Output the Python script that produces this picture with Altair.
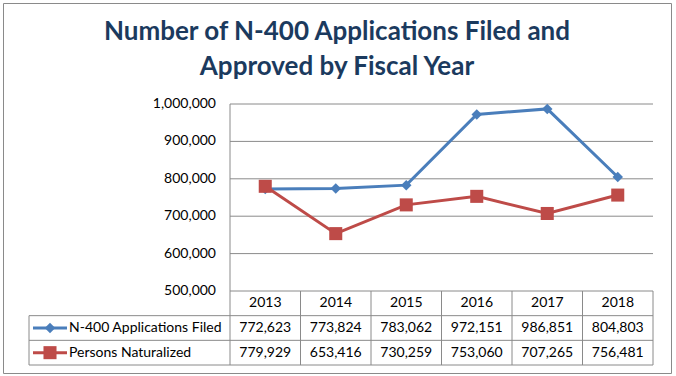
import altair as alt
import pandas as pd

# ---------------- data ----------------
years = [2013, 2014, 2015, 2016, 2017, 2018]
filed = [772623, 773824, 783062, 972151, 986851, 804803]
naturalized = [779929, 653416, 730259, 753060, 707265, 756481]
series_names = ["N-400 Applications Filed", "Persons Naturalized"]
y_ticks = [500000, 600000, 700000, 800000, 900000, 1000000]
title_lines = ["Number of N-400 Applications Filed and", "Approved by Fiscal Year"]

# ---------------- style / layout ----------------
FONT = "Lato"
TITLE_COLOR = "#1B3A5E"
LINE_COLORS = ["#4A7EBB", "#BE4B48"]
MARK_COLORS = ["#4F81BD", "#C0504D"]
SHAPES = ["diamond", "square"]
MARK_SIZES = [110, 170]
LEGEND_SIZES = [50, 80]
GRID = "#8A8A8A"
W, H = 668, 370            # the single view = the chart frame
PX_LEFT, PX_RIGHT = 227, 650   # pixel of first / last column edge
PX_PER_YEAR = (PX_RIGHT - PX_LEFT) / len(years)
TABLE_LEFT_PX = 26
SYMBOL_PX = (30, 64, 47)   # legend line start, end, marker
LABEL_PX = 66


def px_to_year(px):
    return years[0] - 0.5 + (px - PX_LEFT) / PX_PER_YEAR


x_lo = years[0] - 0.5
x_hi = years[-1] + 0.5
table_left = px_to_year(TABLE_LEFT_PX)

xscale = alt.Scale(domain=[x_lo, x_hi], range=[PX_LEFT, PX_RIGHT], zero=False, nice=False)
vscale = alt.Scale(domain=[y_ticks[0], y_ticks[-1]], range=[288, 101], zero=False, nice=False)
rscale = alt.Scale(domain=[0, 3], range=[288, 362], zero=False, nice=False)

line_df = pd.DataFrame({
    "year": years * 2,
    "value": filed + naturalized,
    "series": [series_names[0]] * len(years) + [series_names[1]] * len(years),
})
tick_df = pd.DataFrame({"tick": y_ticks})
grid_df = tick_df[tick_df["tick"] > y_ticks[0]]

cell_rows = []
for i, y in enumerate(years):
    cell_rows.append({"year": y, "row": 0.5, "text": str(y)})
    cell_rows.append({"year": y, "row": 1.5, "text": f"{filed[i]:,}"})
    cell_rows.append({"year": y, "row": 2.5, "text": f"{naturalized[i]:,}"})
cell_df = pd.DataFrame(cell_rows)

edges = [y - 0.5 for y in years] + [years[-1] + 0.5]
vline_df = pd.DataFrame({"x": edges, "r0": [0] * len(edges), "r1": [3] * len(edges)})
vline_df = pd.concat([vline_df, pd.DataFrame({"x": [table_left], "r0": [1], "r1": [3]})])
hline_df = pd.DataFrame({
    "r": [0, 1, 2, 3],
    "x0": [x_lo, table_left, table_left, table_left],
    "x1": [x_hi] * 4,
})

legend_df = pd.DataFrame({
    "series": series_names,
    "row": [1.5, 2.5],
    "xa": [px_to_year(SYMBOL_PX[0])] * 2,
    "xb": [px_to_year(SYMBOL_PX[1])] * 2,
    "xm": [px_to_year(SYMBOL_PX[2])] * 2,
    "xl": [px_to_year(LABEL_PX)] * 2,
})

color_line = alt.Scale(domain=series_names, range=LINE_COLORS)
color_mark = alt.Scale(domain=series_names, range=MARK_COLORS)
shape_scale = alt.Scale(domain=series_names, range=SHAPES)

def X(field):
    return alt.X(field, type="quantitative", scale=xscale, axis=None)

# gridlines
grid = alt.Chart(grid_df).mark_rule(color=GRID, strokeWidth=1).encode(
    x=alt.XDatum(x_lo, type="quantitative", scale=xscale, axis=None),
    x2=alt.X2Datum(x_hi),
    y=alt.Y("tick:Q", scale=vscale, axis=None),
)
# y axis line
yaxis = alt.Chart(tick_df).mark_rule(color=GRID, strokeWidth=1).encode(
    x=alt.XDatum(x_lo, type="quantitative", scale=xscale, axis=None),
    y=alt.Y("min(tick):Q", scale=vscale, axis=None),
    y2=alt.Y2("max(tick):Q"),
)
ylabels = alt.Chart(tick_df).mark_text(align="right", baseline="middle", dx=-14,
                                        font=FONT, fontSize=14, color="#000000").encode(
    x=alt.XDatum(x_lo, type="quantitative", scale=xscale, axis=None),
    y=alt.Y("tick:Q", scale=vscale, axis=None),
    text=alt.Text("tick:Q", format=","),
)
lines = alt.Chart(line_df).mark_line(strokeWidth=3).encode(
    x=X("year"),
    y=alt.Y("value:Q", scale=vscale, axis=None),
    color=alt.Color("series:N", scale=color_line, legend=None),
)
points = alt.Chart(line_df).mark_point(filled=True, opacity=1).encode(
    x=X("year"),
    y=alt.Y("value:Q", scale=vscale, axis=None),
    color=alt.Color("series:N", scale=color_mark, legend=None),
    shape=alt.Shape("series:N", scale=shape_scale, legend=None),
    size=alt.Size("series:N", scale=alt.Scale(domain=series_names, range=MARK_SIZES), legend=None),
)
vlines = alt.Chart(vline_df).mark_rule(color=GRID, strokeWidth=1).encode(
    x=X("x"),
    y=alt.Y("r0:Q", scale=rscale, axis=None),
    y2=alt.Y2("r1:Q"),
)
hlines = alt.Chart(hline_df).mark_rule(color=GRID, strokeWidth=1).encode(
    x=X("x0"),
    x2=alt.X2("x1"),
    y=alt.Y("r:Q", scale=rscale, axis=None),
)
cells = alt.Chart(cell_df).mark_text(align="center", baseline="middle",
                                     font=FONT, fontSize=14, color="#000000").encode(
    x=X("year"),
    y=alt.Y("row:Q", scale=rscale, axis=None),
    text="text:N",
)
leg_lines = alt.Chart(legend_df).mark_rule(strokeWidth=3).encode(
    x=X("xa"),
    x2=alt.X2("xb"),
    y=alt.Y("row:Q", scale=rscale, axis=None),
    color=alt.Color("series:N", scale=color_line, legend=None),
)
leg_points = alt.Chart(legend_df).mark_point(filled=True, opacity=1).encode(
    x=X("xm"),
    y=alt.Y("row:Q", scale=rscale, axis=None),
    color=alt.Color("series:N", scale=color_mark, legend=None),
    shape=alt.Shape("series:N", scale=shape_scale, legend=None),
    size=alt.Size("series:N", scale=alt.Scale(domain=series_names, range=LEGEND_SIZES), legend=None),
)
leg_text = alt.Chart(legend_df).mark_text(align="left", baseline="middle",
                                          font=FONT, fontSize=14, color="#000000").encode(
    x=X("xl"),
    y=alt.Y("row:Q", scale=rscale, axis=None),
    text="series:N",
)

chart = alt.layer(
    grid, yaxis, ylabels, vlines, hlines, cells, lines, points, leg_lines, leg_points, leg_text
).resolve_scale(
    y="independent"
).properties(
    width=W,
    height=H,
    autosize=alt.AutoSizeParams(type="none"),
    padding={"left": 3, "top": 3, "right": 5, "bottom": 3},
    title=alt.TitleParams(
        text=title_lines,
        anchor="middle",
        frame="group",
        font=FONT,
        fontSize=26,
        fontWeight="bold",
        color=TITLE_COLOR,
        lineHeight=35,
        orient="top",
        dy=81,
    ),
).configure_view(
    stroke=GRID, strokeWidth=1
)

chart.save("out.html", embed_options={"renderer": "svg", "actions": False})
